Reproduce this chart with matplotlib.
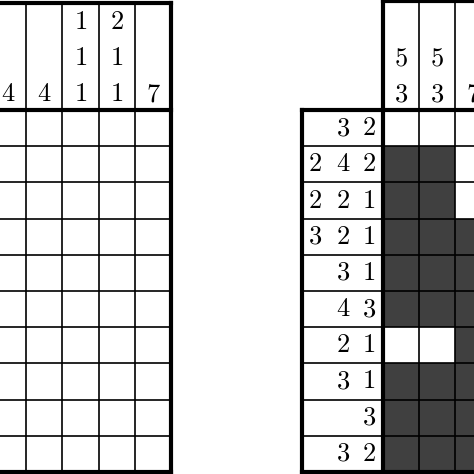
import numpy as np
import matplotlib
matplotlib.use('Agg')
import matplotlib.pyplot as plt
from matplotlib.patches import Rectangle

plt.rcParams['mathtext.fontset'] = 'cm'

# Left puzzle (cropped): visible column clues, all cells empty
left_col_clues = [[4], [4], [1, 1, 1], [2, 1, 1], [7]]
left_rows = 10

# Right puzzle (cropped): row clues, visible column clues, filled cells
right_row_clues = [[3, 2], [2, 4, 2], [2, 2, 1], [3, 2, 1], [3, 1],
                   [4, 3], [2, 1], [3, 1], [3], [3, 2]]
right_col_clues = [[5, 3], [5, 3], [7]]
right_fill = np.array([
    [0, 0, 0],
    [1, 1, 0],
    [1, 1, 0],
    [1, 1, 1],
    [1, 1, 1],
    [1, 1, 1],
    [0, 0, 1],
    [1, 1, 1],
    [1, 1, 1],
    [1, 1, 1],
])

cell = 36.2
grid_top = 110
fs = 19

fig = plt.figure(figsize=(4.74, 4.74), dpi=100)
ax = fig.add_axes([0, 0, 1, 1])
ax.set_xlim(0, 474)
ax.set_ylim(474, 0)
ax.axis('off')

def line(x0, y0, x1, y1, lw):
    ax.plot([x0, x1], [y0, y1], color='black', lw=lw, solid_capstyle='projecting')

def num(x, y, v):
    ax.text(x, y, f'${v}$', fontsize=fs, ha='center', va='center')

# ---- left puzzle ----
lx_right = 171
ncol = len(left_col_clues)
lx0 = lx_right - ncol * cell
bottom = grid_top + left_rows * cell
for i in range(ncol + 1):
    x = lx0 + i * cell
    line(x, 3, x, bottom, 1.2)
for j in range(left_rows + 1):
    y = grid_top + j * cell
    line(lx0 - 20, y, lx_right, y, 1.2)
line(lx_right, 3, lx_right, bottom, 3)
line(lx0 - 20, 3, lx_right, 3, 3)
line(lx0 - 20, grid_top, lx_right, grid_top, 3)
line(lx0 - 20, bottom, lx_right, bottom, 3)
for i, clue in enumerate(left_col_clues):
    xc = lx0 + (i + 0.5) * cell
    for k, v in enumerate(reversed(clue)):
        num(xc, 94 - k * 36, v)

# ---- right puzzle ----
rx0 = 383
clue_left = 302
nrc = len(right_col_clues)
rx_end = rx0 + nrc * cell + 20
for r in range(right_fill.shape[0]):
    for c in range(nrc):
        if right_fill[r, c]:
            ax.add_patch(Rectangle((rx0 + c * cell, grid_top + r * cell), cell, cell,
                                   facecolor='#404040', edgecolor='none'))
for i in range(nrc + 1):
    x = rx0 + i * cell
    line(x, 1, x, bottom, 1.2)
for j in range(left_rows + 1):
    y = grid_top + j * cell
    line(clue_left, y, rx_end, y, 1.2)
line(rx0, 1, rx0, bottom, 3)
line(rx0, 1, rx_end, 1, 3)
line(clue_left, grid_top, rx_end, grid_top, 3)
line(clue_left, grid_top, clue_left, bottom, 3)
line(clue_left, bottom, rx_end, bottom, 3)
clue_x = [369, 343, 315]
for r, clue in enumerate(right_row_clues):
    yc = grid_top + (r + 0.5) * cell
    for k, v in enumerate(reversed(clue)):
        num(clue_x[k], yc, v)
for i, clue in enumerate(right_col_clues):
    xc = rx0 + (i + 0.5) * cell
    for k, v in enumerate(reversed(clue)):
        num(xc, 94 - k * 36, v)

fig.savefig('out.png', dpi=100)
